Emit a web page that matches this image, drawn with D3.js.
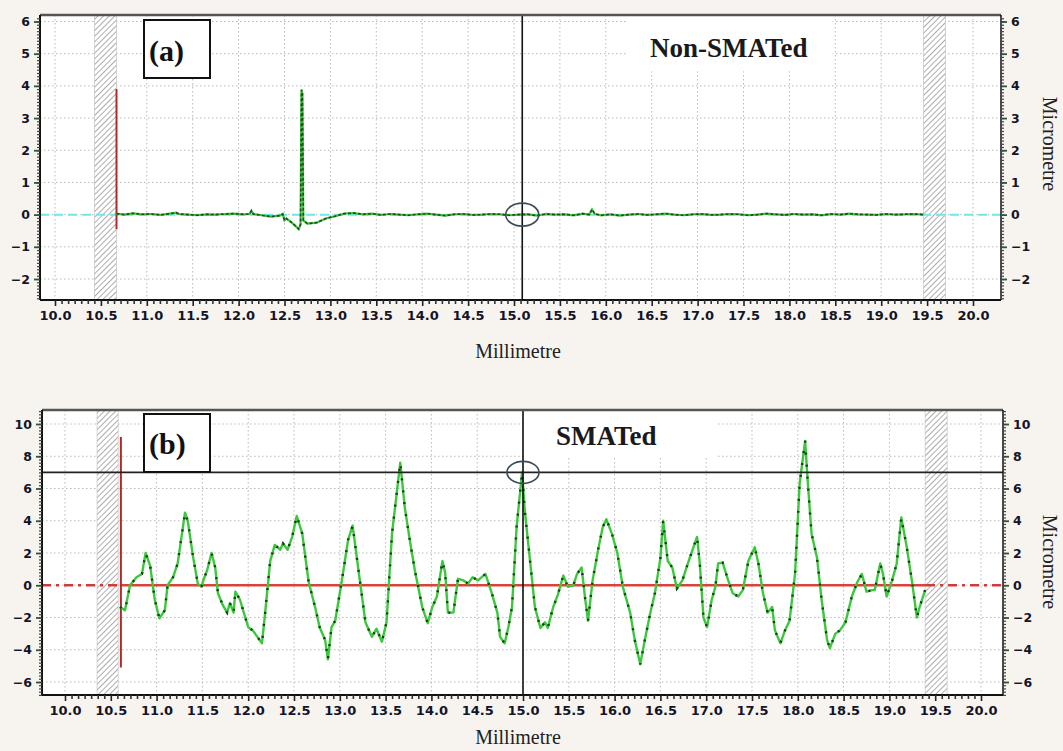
<!DOCTYPE html>
<html><head><meta charset="utf-8">
<script src="https://cdn.jsdelivr.net/npm/d3@7/dist/d3.min.js"></script>
<style>body{margin:0;background:#f7f4f0;overflow:hidden}</style>
</head><body>
<svg id="c" width="1063" height="751"></svg>
<script>
// ---------- data ----------
const xTicks = [10.0,10.5,11.0,11.5,12.0,12.5,13.0,13.5,14.0,14.5,15.0,15.5,16.0,16.5,17.0,17.5,18.0,18.5,19.0,19.5,20.0];
const yTicksA = [-2,-1,0,1,2,3,4,5,6];
const yTicksB = [-6,-4,-2,0,2,4,6,8,10];

// (a) Non-SMATed profile: x in mm, y in micrometre
const profileAx = [10.67,10.75,10.85,10.95,11.05,11.15,11.25,11.32,11.35,11.45,11.55,11.65,11.75,11.85,11.95,12.05,12.12,12.14,12.16,12.25,12.35,12.45,12.48,12.50,12.52,12.58,12.63,12.655,12.675,12.685,12.695,12.705,12.75,12.85,12.95,13.05,13.15,13.25,13.35,13.45,13.55,13.65,13.75,13.85,13.95,14.05,14.15,14.25,14.35,14.45,14.55,14.65,14.75,14.85,14.95,15.05,15.15,15.25,15.35,15.45,15.55,15.65,15.75,15.82,15.85,15.88,15.95,16.05,16.15,16.25,16.35,16.45,16.55,16.65,16.75,16.85,16.95,17.05,17.15,17.25,17.35,17.45,17.55,17.65,17.75,17.85,17.95,18.05,18.15,18.25,18.35,18.45,18.55,18.65,18.75,18.85,18.95,19.05,19.15,19.25,19.35,19.46];
const profileAy = [0.03,0.00,0.04,0.01,0.02,-0.01,0.03,0.06,0.02,0.00,-0.02,0.01,0.00,0.02,0.03,0.01,0.02,0.12,0.02,-0.02,-0.06,-0.03,0.02,-0.18,-0.12,-0.25,-0.38,-0.45,-0.30,3.88,3.75,-0.18,-0.28,-0.25,-0.12,-0.05,0.03,0.05,0.01,0.03,-0.01,0.02,0.00,-0.02,0.01,0.03,0.00,-0.03,0.01,0.02,-0.01,0.00,0.02,0.01,-0.02,0.00,0.01,-0.03,0.02,0.00,0.01,-0.02,0.03,0.00,0.16,0.02,-0.02,0.01,-0.03,0.00,0.02,-0.01,0.01,0.03,0.00,-0.02,0.01,0.02,-0.01,0.00,0.02,0.01,-0.02,0.00,0.03,0.01,-0.01,0.02,0.00,0.01,-0.02,0.02,0.00,0.03,0.01,0.00,-0.01,0.02,0.00,0.01,0.02,0.00];

// (b) SMATed profile: x in mm, y in micrometre
const profileBx = [10.60,10.655,10.71,10.78,10.84,10.88,10.93,10.98,11.03,11.09,11.12,11.18,11.23,11.31,11.34,11.40,11.45,11.49,11.51,11.55,11.60,11.64,11.67,11.72,11.77,11.80,11.84,11.86,11.91,12.00,12.05,12.10,12.15,12.18,12.24,12.29,12.35,12.38,12.43,12.48,12.53,12.59,12.66,12.73,12.78,12.84,12.87,12.91,12.95,13.02,13.09,13.14,13.20,13.28,13.35,13.40,13.46,13.51,13.57,13.66,13.71,13.77,13.82,13.90,13.96,14.01,14.06,14.12,14.15,14.18,14.24,14.29,14.35,14.40,14.45,14.51,14.59,14.66,14.72,14.75,14.80,14.84,14.88,14.93,14.99,15.02,15.08,15.13,15.19,15.24,15.27,15.33,15.38,15.44,15.49,15.55,15.59,15.64,15.68,15.71,15.76,15.82,15.87,15.91,15.97,16.03,16.09,16.17,16.22,16.28,16.33,16.39,16.44,16.50,16.53,16.58,16.63,16.68,16.74,16.80,16.90,16.93,16.97,17.01,17.06,17.10,17.13,17.18,17.24,17.29,17.35,17.40,17.46,17.53,17.57,17.62,17.67,17.72,17.75,17.81,17.86,17.91,17.97,18.02,18.08,18.11,18.15,18.21,18.26,18.32,18.35,18.41,18.46,18.52,18.59,18.65,18.70,18.75,18.81,18.84,18.90,18.93,18.97,19.03,19.08,19.13,19.19,19.25,19.30,19.33,19.39];
const profileBy = [-1.35,-1.55,0.0,0.5,0.7,2.0,1.2,-0.9,-2.05,-1.55,0.0,0.5,1.35,4.5,4.0,1.7,0.1,-0.1,0.3,0.9,2.0,1.1,-0.5,-1.2,-1.7,-1.1,-1.7,-0.4,-0.9,-2.6,-2.8,-3.2,-3.6,-2.0,1.5,2.5,2.2,2.6,2.2,3.0,4.3,3.2,0.2,-1.35,-2.6,-3.4,-4.6,-2.6,-2.2,0.2,2.8,3.7,1.1,-2.3,-3.2,-2.7,-3.5,-2.3,3.2,7.6,4.8,2.6,0.9,-1.35,-2.35,-1.35,-0.7,1.5,0.8,-1.7,-1.7,0.4,0.3,0.1,0.5,0.3,0.7,-0.5,-1.7,-3.2,-3.6,-2.6,-1.35,3.6,7.0,4.6,1.35,-1.35,-2.65,-2.3,-2.65,-1.35,-0.6,0.6,-0.1,0.0,0.7,1.1,-0.9,-2.2,0.3,2.2,3.6,4.1,3.2,2.0,-0.1,-1.7,-3.4,-4.9,-3.4,-1.7,-0.5,1.7,4.0,1.5,1.1,-0.2,0.3,1.35,3.0,1.35,-2.0,-2.6,-0.9,-0.1,1.35,1.4,0.3,-0.5,-0.7,-0.3,1.5,2.35,1.35,-0.5,-1.7,-1.35,-2.8,-3.6,-2.8,-2.2,0.7,6.3,8.95,6.3,3.2,1.7,-0.9,-3.4,-3.9,-3.0,-2.8,-2.3,-0.7,0.2,0.7,-0.4,-0.3,-0.3,1.35,0.7,-0.7,0.3,1.35,4.2,2.35,0.1,-2.0,-1.35,-0.3];

// markers (data units)
const hatchA = [[10.43,10.67],[19.46,19.70]];
const hatchB = [[10.35,10.58],[19.39,19.63]];
const redLineA = {x:10.67, y0:-0.45, y1:3.9};
const redLineB = {x:10.61, y0:-5.1, y1:9.2};
const cursorA = {x:15.09, y:0};
const cursorB = {x:15.0, y:7.0};
const solidB = [10.60,19.40];

// ---------- drawing ----------
const svg = d3.select('#c');
const defs = svg.append('defs');
const pat = defs.append('pattern').attr('id','hatch').attr('patternUnits','userSpaceOnUse')
  .attr('width',4).attr('height',4).attr('patternTransform','rotate(45)');
pat.append('rect').attr('width',4).attr('height',4).attr('fill','#fff');
pat.append('line').attr('x1',0).attr('y1',0).attr('x2',0).attr('y2',4).attr('stroke','#8a8a8a').attr('stroke-width',1.4);

function panel(cfg){
  const g = svg.append('g');
  const {l,t,r,b} = cfg.frame;
  const x = d3.scaleLinear().domain([10,20]).range(cfg.xr);
  const y = d3.scaleLinear().domain(cfg.yd).range(cfg.yr);
  g.append('rect').attr('x',l).attr('y',t).attr('width',r-l).attr('height',b-t).attr('fill','#fff');
  g.append('g').selectAll('line').data(xTicks).join('line')
    .attr('x1',d=>x(d)).attr('x2',d=>x(d)).attr('y1',t).attr('y2',b)
    .attr('stroke','#b9b9b9').attr('stroke-width',1).attr('stroke-dasharray','1.5,2.5');
  g.append('g').selectAll('line').data(cfg.yTicks).join('line')
    .attr('x1',l).attr('x2',r).attr('y1',d=>y(d)).attr('y2',d=>y(d))
    .attr('stroke','#b9b9b9').attr('stroke-width',1).attr('stroke-dasharray','1.5,2.5');
  g.append('rect').attr('x',x(cfg.titleBox[0])).attr('y',t+1)
    .attr('width',x(cfg.titleBox[1])-x(cfg.titleBox[0])).attr('height',y(cfg.titleBox[2])-t-1).attr('fill','#fff');
  g.append('g').selectAll('rect').data(cfg.hatch).join('rect')
    .attr('x',d=>x(d[0])).attr('width',d=>x(d[1])-x(d[0])).attr('y',t).attr('height',b-t)
    .attr('fill','url(#hatch)').attr('stroke','#bbb').attr('stroke-width',0.6);
  cfg.extra(g,x,y);
  g.append('line').attr('x1',l).attr('x2',r).attr('y1',t).attr('y2',t).attr('stroke','#555').attr('stroke-width',2.5);
  g.append('line').attr('x1',l).attr('x2',l).attr('y1',t).attr('y2',b).attr('stroke','#111').attr('stroke-width',2);
  g.append('line').attr('x1',r).attr('x2',r).attr('y1',t).attr('y2',b).attr('stroke','#111').attr('stroke-width',1.5);
  g.append('line').attr('x1',l).attr('x2',r).attr('y1',b).attr('y2',b).attr('stroke','#111').attr('stroke-width',2);
  const minorX = [];
  for(let i=0;i<xTicks.length-1;i++){ for(let k=1;k<7;k++) minorX.push(xTicks[i]+k*0.5/7); }
  const xa = d3.axisBottom(x).tickValues(xTicks).tickFormat(d3.format('.1f')).tickSize(6).tickPadding(5);
  const xg = g.append('g').attr('transform',`translate(0,${b})`).call(xa);
  xg.select('.domain').remove();
  xg.selectAll('line').attr('stroke','#222').attr('stroke-width',1.6);
  xg.selectAll('text').attr('font-family','DejaVu Sans, Verdana, sans-serif').attr('font-weight','bold').attr('font-size','13px').attr('fill','#141428');
  const xm = d3.axisBottom(x).tickValues(minorX).tickFormat('').tickSize(4);
  const xmg = g.append('g').attr('transform',`translate(0,${b})`).call(xm);
  xmg.select('.domain').remove(); xmg.selectAll('line').attr('stroke','#333').attr('stroke-width',1.6);
  const minorY = d3.range(cfg.yMinorFrom, cfg.yMinorTo+1e-9, cfg.yMinorStep);
  [[l,d3.axisLeft],[r,d3.axisRight]].forEach(([px,fn])=>{
    const ya = fn(y).tickValues(cfg.yTicks).tickFormat(d3.format('d')).tickSize(6).tickPadding(4);
    const yg = g.append('g').attr('transform',`translate(${px},0)`).call(ya);
    yg.select('.domain').remove();
    yg.selectAll('line').attr('stroke','#2d5a2d').attr('stroke-width',1.8);
    yg.selectAll('text').attr('font-family','DejaVu Sans, Verdana, sans-serif').attr('font-weight','bold').attr('font-size','12.5px').attr('fill','#141428');
    const ym = fn(y).tickValues(minorY).tickFormat('').tickSize(3);
    const ymg = g.append('g').attr('transform',`translate(${px},0)`).call(ym);
    ymg.select('.domain').remove(); ymg.selectAll('line').attr('stroke','#444').attr('stroke-width',1.2);
  });
  const lb = cfg.labelBox;
  g.append('rect').attr('x',lb.x).attr('y',lb.y).attr('width',lb.w).attr('height',lb.h)
    .attr('fill','#fff').attr('stroke','#111').attr('stroke-width',2);
  g.append('text').attr('x',lb.x+5).attr('y',lb.y+lb.base).text(cfg.label)
    .attr('font-family','Liberation Serif, Times New Roman, serif').attr('font-weight','bold').attr('font-size','30px').attr('fill','#111');
  g.append('text').attr('x',cfg.title.x).attr('y',cfg.title.y).text(cfg.title.text)
    .attr('font-family','Liberation Serif, Times New Roman, serif').attr('font-weight','bold').attr('font-size',cfg.title.size).attr('fill','#1a1a1a');
  g.append('text').attr('x',518).attr('y',cfg.xlabY).attr('text-anchor','middle').text('Millimetre')
    .attr('font-family','Liberation Serif, Times New Roman, serif').attr('font-size','20px').attr('fill','#222');
  g.append('text').attr('transform',`translate(${cfg.ylabX},${cfg.ylabY}) rotate(90)`).attr('text-anchor','middle').text('Micrometre')
    .attr('font-family','Liberation Serif, Times New Roman, serif').attr('font-size','20px').attr('fill','#222');
}

panel({
  frame:{l:40,t:15,r:1001,b:300}, xr:[55,973], yd:[-2,6], yr:[279,21.5], yTicks:yTicksA,
  yMinorFrom:-2.6, yMinorTo:6.1, yMinorStep:0.1,
  hatch:hatchA, titleBox:[16.23,18.47,4.45],
  labelBox:{x:144,y:20,w:66,h:58,base:41}, label:'(a)',
  title:{x:650,y:57,text:'Non-SMATed',size:'27px'},
  xlabY:358, ylabX:1043, ylabY:144,
  extra:(g,x,y)=>{
    g.append('line').attr('x1',x.range()[0]-15).attr('x2',1001).attr('y1',y(0)).attr('y2',y(0))
      .attr('stroke','#6ee8e8').attr('stroke-width',2).attr('stroke-dasharray','9,5');
    g.append('line').attr('x1',x(redLineA.x)).attr('x2',x(redLineA.x)).attr('y1',y(redLineA.y0)).attr('y2',y(redLineA.y1))
      .attr('stroke','#b02a2a').attr('stroke-width',2);
    const pts = profileAx.map((v,i)=>[v,profileAy[i]]);
    const line = d3.line().x(d=>x(d[0])).y(d=>y(d[1]));
    g.append('path').datum(pts).attr('d',line).attr('fill','none').attr('stroke','#3cc83c').attr('stroke-width',2.2);
    g.append('path').datum(pts).attr('d',line).attr('fill','none').attr('stroke','#1c4d1c').attr('stroke-width',1.6).attr('stroke-dasharray','3,2');
    g.append('line').attr('x1',x(cursorA.x)).attr('x2',x(cursorA.x)).attr('y1',15).attr('y2',300).attr('stroke','#111').attr('stroke-width',1.6);
    g.append('ellipse').attr('cx',x(cursorA.x)).attr('cy',y(cursorA.y)).attr('rx',16.5).attr('ry',11.5)
      .attr('fill','none').attr('stroke','#3d4a5a').attr('stroke-width',1.6);
  }
});

panel({
  frame:{l:42,t:410,r:1003,b:695}, xr:[65,981], yd:[-6,10], yr:[682,424], yTicks:yTicksB,
  yMinorFrom:-6.8, yMinorTo:10.8, yMinorStep:0.2,
  hatch:hatchB, titleBox:[15.03,17.12,7.9],
  labelBox:{x:144,y:414,w:66,h:58,base:40}, label:'(b)',
  title:{x:556,y:445,text:'SMATed',size:'27px'},
  xlabY:744, ylabX:1043, ylabY:562,
  extra:(g,x,y)=>{
    g.append('line').attr('x1',42).attr('x2',x(solidB[0])).attr('y1',y(0)).attr('y2',y(0))
      .attr('stroke','#d23a3a').attr('stroke-width',2.5).attr('stroke-dasharray','9,5,3,5');
    g.append('line').attr('x1',x(solidB[1])).attr('x2',1003).attr('y1',y(0)).attr('y2',y(0))
      .attr('stroke','#d23a3a').attr('stroke-width',2.5).attr('stroke-dasharray','9,5,3,5');
    g.append('line').attr('x1',x(solidB[0])).attr('x2',x(solidB[1])).attr('y1',y(0)).attr('y2',y(0))
      .attr('stroke','#d9443a').attr('stroke-width',2.6);
    g.append('line').attr('x1',x(redLineB.x)).attr('x2',x(redLineB.x)).attr('y1',y(redLineB.y0)).attr('y2',y(redLineB.y1))
      .attr('stroke','#b02a2a').attr('stroke-width',2);
    const pts = profileBx.map((v,i)=>[v,profileBy[i]]);
    const line = d3.line().x(d=>x(d[0])).y(d=>y(d[1]));
    g.append('path').datum(pts).attr('d',line).attr('fill','none').attr('stroke','#3cc83c').attr('stroke-width',2.4).attr('stroke-linejoin','round');
    g.append('path').datum(pts).attr('d',line).attr('fill','none').attr('stroke','#123d12').attr('stroke-width',2.4).attr('stroke-dasharray','2,10');
    g.append('line').attr('x1',42).attr('x2',1003).attr('y1',y(cursorB.y)).attr('y2',y(cursorB.y)).attr('stroke','#222').attr('stroke-width',1.6);
    g.append('line').attr('x1',x(cursorB.x)).attr('x2',x(cursorB.x)).attr('y1',410).attr('y2',695).attr('stroke','#111').attr('stroke-width',1.6);
    g.append('ellipse').attr('cx',x(cursorB.x)).attr('cy',y(cursorB.y)).attr('rx',16).attr('ry',11)
      .attr('fill','none').attr('stroke','#3d4a5a').attr('stroke-width',1.6);
  }
});
</script>
</body></html>
